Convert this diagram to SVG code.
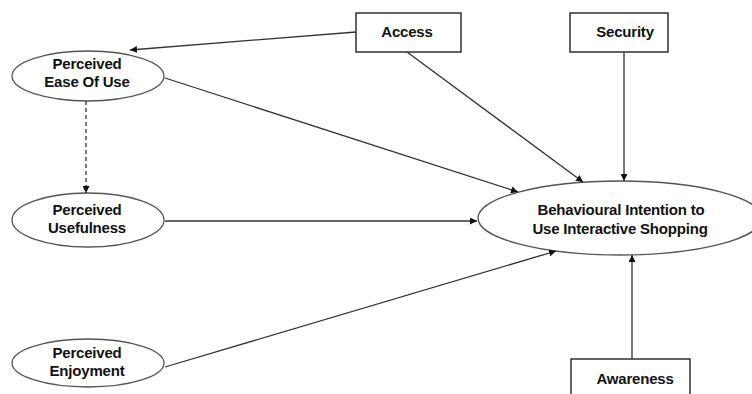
<svg xmlns="http://www.w3.org/2000/svg" width="752" height="394" viewBox="0 0 752 394">
<style>
.bg{fill:#fff}
.el{fill:#fff;stroke:#555;stroke-width:1.3}
.bx{fill:#fff;stroke:#222;stroke-width:1.4}
.t{font-family:"Liberation Sans",Arial,sans-serif;font-size:15px;font-weight:bold;fill:#111;text-anchor:middle;letter-spacing:-0.2px}
.c{stroke:#333;stroke-width:1.3;fill:none;marker-end:url(#ah)}
.d{stroke-dasharray:4,3}
</style>
<defs>
<marker id="ah" viewBox="0 0 10 10" refX="10" refY="5" markerWidth="7" markerHeight="7" markerUnits="userSpaceOnUse" orient="auto">
<path d="M0,0 L10,5 L0,10 Z" fill="#111"/>
</marker>
</defs>
<rect class="bg" x="0" y="0" width="752" height="394"/>
<g id="peou">
<ellipse class="el" cx="88" cy="76" rx="76" ry="25"/>
<text class="t" x="87" y="69">Perceived</text>
<text class="t" x="87" y="87">Ease Of Use</text>
</g>
<g id="pu">
<ellipse class="el" cx="88" cy="220" rx="76" ry="27"/>
<text class="t" x="87" y="215">Perceived</text>
<text class="t" x="87" y="233">Usefulness</text>
</g>
<g id="pe">
<ellipse class="el" cx="88" cy="363" rx="76" ry="24"/>
<text class="t" x="87" y="358">Perceived</text>
<text class="t" x="87" y="376">Enjoyment</text>
</g>
<g id="bi">
<ellipse class="el" cx="620" cy="218" rx="142" ry="37"/>
<text class="t" x="621" y="215">Behavioural Intention to</text>
<text class="t" x="620" y="234">Use Interactive Shopping</text>
</g>
<g id="access">
<rect class="bx" x="356" y="13" width="105" height="39"/>
<text class="t" x="407" y="37">Access</text>
</g>
<g id="security">
<rect class="bx" x="570" y="13" width="98" height="39"/>
<text class="t" x="625" y="37">Security</text>
</g>
<g id="awareness">
<rect class="bx" x="571" y="359" width="119" height="50"/>
<text class="t" x="635" y="384">Awareness</text>
</g>
<g id="connectors">
<line class="c" x1="356" y1="32" x2="130" y2="50"/>
<line class="c" x1="407" y1="52" x2="583" y2="182"/>
<line class="c" x1="165" y1="78" x2="518" y2="192"/>
<line class="c d" x1="86" y1="101" x2="86" y2="193"/>
<line class="c" x1="165" y1="221" x2="477" y2="221"/>
<line class="c" x1="165" y1="367" x2="556" y2="251"/>
<line class="c" x1="624" y1="52" x2="624" y2="181"/>
<line class="c" x1="632" y1="359" x2="632" y2="255"/>
</g>
</svg>
